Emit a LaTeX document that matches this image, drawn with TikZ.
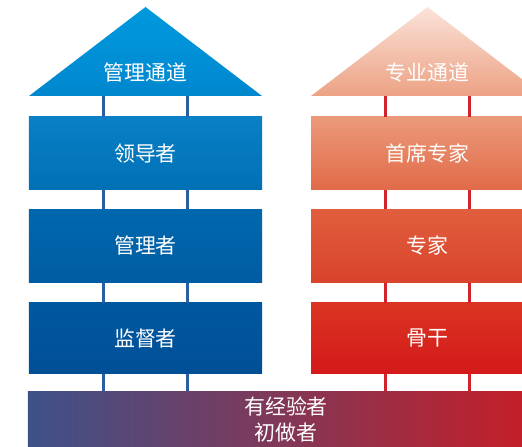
\documentclass[tikz,border=0pt]{standalone}
\usepackage{fontspec}
\newfontfamily\cjk{Noto Sans CJK SC}
\usetikzlibrary{positioning}
\definecolor{mtop}{HTML}{0099DE}
\definecolor{mbot}{HTML}{0087CE}
\definecolor{ptop}{HTML}{FBE2D9}
\definecolor{pbot}{HTML}{ECA284}
\definecolor{blueline}{HTML}{2A60A2}
\definecolor{redline}{HTML}{D0232B}
\begin{document}
\begin{tikzpicture}[x=1bp,y=-1bp,
    lvl/.style={minimum width=233bp,minimum height=73bp,inner sep=0pt,
      text=white,font=\cjk\fontsize{21}{25}\selectfont},
    lbl/.style={text=white,font=\cjk\fontsize{21}{25}\selectfont},
    bluelink/.style={draw=blueline,line width=2.4bp},
    redlink/.style={draw=redline,line width=2.4bp}]
  \useasboundingbox (0,0) rectangle (522,447);
  % roofs
  \shade[top color=mtop,bottom color=mbot] (29,96) -- (145.5,7) -- (262,96) -- cycle;
  \shade[top color=ptop,bottom color=pbot] (311,96) -- (427.5,7) -- (544,96) -- cycle;
  \coordinate (mroof) at (145.5,96);
  \coordinate (proof) at (427.5,96);
  \node[lbl] (mtitle) at (145.5,73) {管理通道};
  \node[lbl] (ptitle) at (427.5,73) {专业通道};
  % management track
  \node[lvl,top color={rgb,255:red,10;green,128;blue,198},bottom color={rgb,255:red,0;green,112;blue,181}]
    (lead) at (145.5,153.5) {领导者};
  \node[lvl,below=19bp of lead,top color={rgb,255:red,0;green,104;blue,174},bottom color={rgb,255:red,0;green,92;blue,163}]
    (mgr) {管理者};
  \node[lvl,below=20bp of mgr,minimum height=71bp,top color={rgb,255:red,0;green,88;blue,160},bottom color={rgb,255:red,0;green,79;blue,151}]
    (sup) {监督者};
  % professional track
  \node[lvl,top color={rgb,255:red,235;green,154;blue,122},bottom color={rgb,255:red,225;green,106;blue,72}]
    (chief) at (427.5,153.5) {首席专家};
  \node[lvl,below=19bp of chief,top color={rgb,255:red,224;green,94;blue,61},bottom color={rgb,255:red,217;green,67;blue,43}]
    (expert) {专家};
  \node[lvl,below=20bp of expert,minimum height=71bp,top color={rgb,255:red,218;green,53;blue,34},bottom color={rgb,255:red,212;green,25;blue,26}]
    (core) {骨干};
  % common base
  \node[lvl,minimum width=516bp,minimum height=56bp,align=center,font=\cjk\fontsize{21}{26}\selectfont,
    left color={rgb,255:red,61;green,81;blue,137},middle color={rgb,255:red,125;green,73;blue,100},right color={rgb,255:red,201;green,29;blue,36}]
    (base) at (286,419.5) {有经验者\\初做者};
  % links
  \foreach \s in {-42,42}{
    \draw[bluelink] ([xshift=\s bp]mroof) -- ([xshift=\s bp]lead.north);
    \draw[bluelink] ([xshift=\s bp]lead.south) -- ([xshift=\s bp]mgr.north);
    \draw[bluelink] ([xshift=\s bp]mgr.south) -- ([xshift=\s bp]sup.north);
    \draw[bluelink] ([xshift=\s bp]sup.south) -- ([xshift=\s bp]sup.south |- base.north);
    \draw[redlink] ([xshift=\s bp]proof) -- ([xshift=\s bp]chief.north);
    \draw[redlink] ([xshift=\s bp]chief.south) -- ([xshift=\s bp]expert.north);
    \draw[redlink] ([xshift=\s bp]expert.south) -- ([xshift=\s bp]core.north);
    \draw[redlink] ([xshift=\s bp]core.south) -- ([xshift=\s bp]core.south |- base.north);
  }
\end{tikzpicture}
\end{document}
